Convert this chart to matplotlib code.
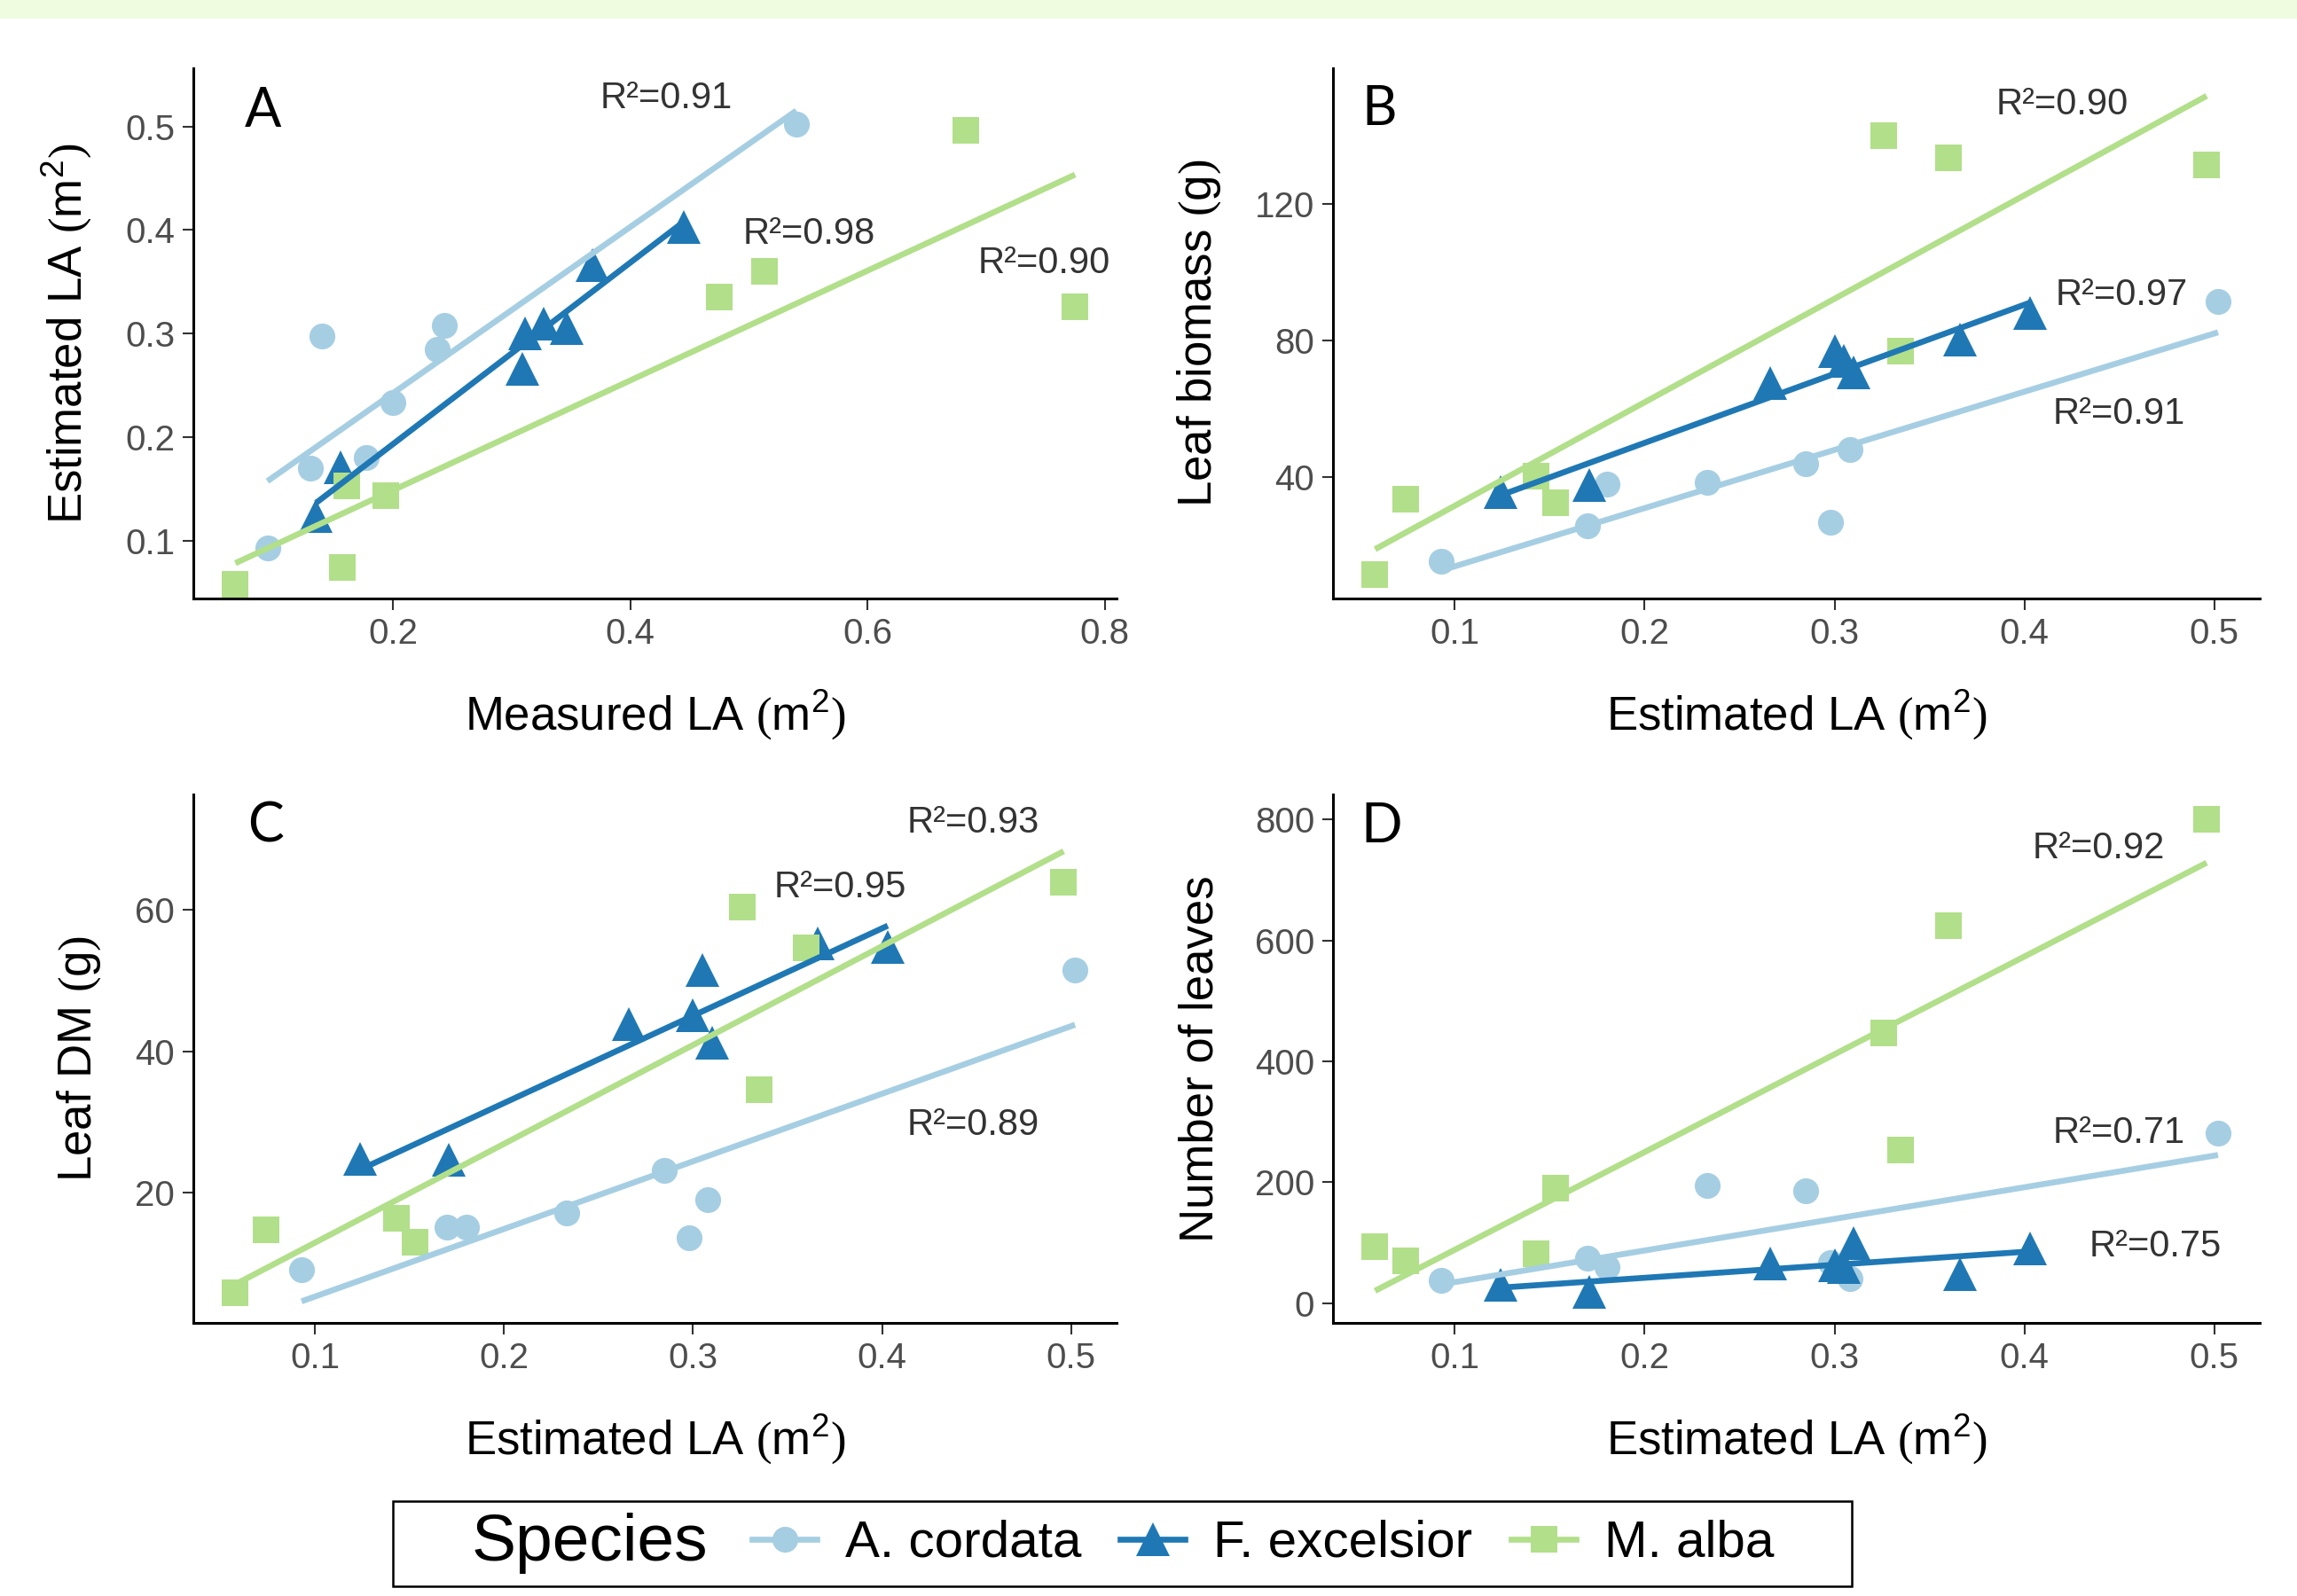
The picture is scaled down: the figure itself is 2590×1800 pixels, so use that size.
import numpy as np
import matplotlib
matplotlib.use('Agg')
import matplotlib.pyplot as plt
from matplotlib.lines import Line2D
from matplotlib.patches import Rectangle
from matplotlib.ticker import FixedLocator, FormatStrFormatter

plt.rcParams['font.family'] = ['Liberation Sans', 'DejaVu Sans']
plt.rcParams['mathtext.fontset'] = 'custom'
plt.rcParams['mathtext.rm'] = 'Liberation Sans'
plt.rcParams['mathtext.it'] = 'Liberation Sans:italic'
plt.rcParams['mathtext.bf'] = 'Liberation Sans:bold'
plt.rcParams['mathtext.cal'] = 'Liberation Serif'

# ---------------- data ----------------
species = ['A. cordata', 'F. excelsior', 'M. alba']
colors = ['#A6CEE3', '#1F78B4', '#B2DF8A']
markers = ['o', '^', 's']

# A. cordata
meas_ac = [0.094, 0.130, 0.177, 0.200, 0.237, 0.140, 0.243, 0.540]
est_ac = [0.093, 0.170, 0.180, 0.233, 0.285, 0.298, 0.308, 0.502]
biomass_ac = [15.4, 25.7, 37.9, 38.4, 43.8, 26.7, 48.0, 91.5]
dm_ac = [9.1, 15.2, 15.2, 17.2, 23.1, 13.6, 19.0, 51.5]
leaves_ac = [37, 75, 60, 195, 186, 67, 41, 281]

# F. excelsior
meas_fe = [0.135, 0.156, 0.309, 0.311, 0.346, 0.327, 0.368, 0.445]
est_fe = [0.124, 0.171, 0.266, 0.300, 0.305, 0.310, 0.366, 0.403]
biomass_fe = [35.6, 37.7, 67.5, 76.8, 74.0, 70.7, 80.3, 88.0]
dm_fe = [24.8, 24.7, 43.8, 45.1, 51.4, 41.2, 55.2, 54.7]
leaves_fe = [30, 18, 66, 62, 60, 100, 48, 90]

# M. alba
meas_ma = [0.067, 0.157, 0.194, 0.161, 0.775, 0.475, 0.513, 0.683]
est_ma = [0.058, 0.074, 0.143, 0.153, 0.326, 0.335, 0.360, 0.496]
biomass_ma = [11.6, 33.6, 40.4, 32.6, 139.9, 76.8, 133.4, 131.4]
dm_ma = [5.9, 14.8, 16.4, 13.0, 60.3, 34.6, 54.6, 63.8]
leaves_ma = [93, 70, 81, 190, 447, 253, 624, 800]

r2_A = ['R²=0.91', 'R²=0.98', 'R²=0.90']
r2_B = ['R²=0.91', 'R²=0.97', 'R²=0.90']
r2_C = ['R²=0.89', 'R²=0.95', 'R²=0.93']
r2_D = ['R²=0.71', 'R²=0.75', 'R²=0.92']

LA_EST = 'Estimated LA $\\mathcal{(}\\mathrm{m}^{2}\\mathcal{)}$'
LA_MEAS = 'Measured LA $\\mathcal{(}\\mathrm{m}^{2}\\mathcal{)}$'

panels = [
    dict(letter='A', x=[meas_ac, meas_fe, meas_ma], y=[est_ac, est_fe, est_ma],
         r2=r2_A, xlabel=LA_MEAS, ylabel=LA_EST,
         xlim=(0.0316, 0.810), ylim=(0.044, 0.556),
         xticks=[0.2, 0.4, 0.6, 0.8], yticks=[0.1, 0.2, 0.3, 0.4, 0.5],
         r2pos=[(0.430, 0.527), (0.551, 0.396), (0.749, 0.368)],
         letterpos=(0.09, 0.515), rect=[0.0842, 0.625, 0.4019, 0.332]),
    dict(letter='B', x=[est_ac, est_fe, est_ma], y=[biomass_ac, biomass_fe, biomass_ma],
         r2=r2_B, xlabel=LA_EST, ylabel='Leaf biomass $\\mathcal{(}\\mathrm{g}\\mathcal{)}$',
         xlim=(0.0358, 0.524), ylim=(4.5, 159.5),
         xticks=[0.1, 0.2, 0.3, 0.4, 0.5], yticks=[40, 80, 120],
         r2pos=[(0.450, 58.5), (0.451, 93.3), (0.420, 149.0)],
         letterpos=(0.06, 147.5), rect=[0.5803, 0.625, 0.4035, 0.332]),
    dict(letter='C', x=[est_ac, est_fe, est_ma], y=[dm_ac, dm_fe, dm_ma],
         r2=r2_C, xlabel=LA_EST, ylabel='Leaf DM $\\mathcal{(}\\mathrm{g}\\mathcal{)}$',
         xlim=(0.0358, 0.524), ylim=(1.6, 76.2),
         xticks=[0.1, 0.2, 0.3, 0.4, 0.5], yticks=[20, 40, 60],
         r2pos=[(0.448, 29.5), (0.378, 63.1), (0.448, 72.2)],
         letterpos=(0.074, 71.8), rect=[0.0842, 0.171, 0.4019, 0.331]),
    dict(letter='D', x=[est_ac, est_fe, est_ma], y=[leaves_ac, leaves_fe, leaves_ma],
         r2=r2_D, xlabel=LA_EST, ylabel='Number of leaves',
         xlim=(0.0358, 0.524), ylim=(-33, 841),
         xticks=[0.1, 0.2, 0.3, 0.4, 0.5], yticks=[0, 200, 400, 600, 800],
         r2pos=[(0.450, 281), (0.469, 94), (0.439, 752)],
         letterpos=(0.0615, 788), rect=[0.5803, 0.171, 0.4035, 0.331]),
]

msizes = [21, 27, 22]
LW = 4.8

fig = plt.figure(figsize=(25.9, 18), dpi=100)
fig.patches.append(Rectangle((0, 1 - 21 / 1800), 1, 21 / 1800, transform=fig.transFigure,
                             facecolor='#EFFCDF', edgecolor='none', zorder=0))

for p in panels:
    ax = fig.add_axes(p['rect'])
    for i in range(3):
        xs = np.array(p['x'][i])
        ys = np.array(p['y'][i])
        ax.plot(xs, ys, linestyle='none', marker=markers[i], markersize=msizes[i],
                color=colors[i], markeredgewidth=0, zorder=2)
    for i in range(3):
        xs = np.array(p['x'][i])
        ys = np.array(p['y'][i])
        b1, b0 = np.polyfit(xs, ys, 1)
        xx = np.linspace(xs.min(), xs.max(), 50)
        ax.plot(xx, b0 + b1 * xx, color=colors[i], lw=LW, zorder=3,
                solid_capstyle='butt')
    for (tx, ty), t in zip(p['r2pos'], p['r2']):
        ax.text(tx, ty, t, fontsize=30, color='#333333', ha='center', va='center')
    ax.text(p['letterpos'][0], p['letterpos'][1], p['letter'], fontsize=44,
            family=['Lato', 'DejaVu Sans'], color='black', ha='center', va='center')
    ax.set_xlim(*p['xlim'])
    ax.set_ylim(*p['ylim'])
    ax.xaxis.set_major_locator(FixedLocator(p['xticks']))
    ax.yaxis.set_major_locator(FixedLocator(p['yticks']))
    ax.xaxis.set_major_formatter(FormatStrFormatter('%g'))
    ax.yaxis.set_major_formatter(FormatStrFormatter('%g'))
    for s in ['top', 'right']:
        ax.spines[s].set_visible(False)
    for s in ['left', 'bottom']:
        ax.spines[s].set_linewidth(2.2)
        ax.spines[s].set_color('black')
    ax.tick_params(axis='both', length=9, width=1.5, color='#333333',
                   labelsize=29, labelcolor='#4D4D4D', pad=6)
    ax.set_xlabel(p['xlabel'], fontsize=38, color='black', labelpad=30)
    ax.set_ylabel(p['ylabel'], fontsize=38, color='black', labelpad=26)

# legend
handles = [Line2D([], [], color=colors[i], lw=LW, marker=markers[i],
                  markersize=msizes[i], markeredgewidth=0) for i in range(3)]
fig.legend(handles, species, loc='center left', bbox_to_anchor=(0.3275, 0.0328),
           ncol=3, frameon=False, fontsize=42, handlelength=1.25, handletextpad=0.55,
           columnspacing=0.75, borderpad=0, borderaxespad=0)
fig.text(0.2054, 0.0328, 'Species', fontsize=54, ha='left', va='center', color='black')
fig.patches.append(Rectangle((443 / 2590, 1 - 1789 / 1800), (2088 - 443) / 2590, 96 / 1800,
                             transform=fig.transFigure, facecolor='none',
                             edgecolor='black', lw=1.8))

fig.savefig('out.png', dpi=100)
